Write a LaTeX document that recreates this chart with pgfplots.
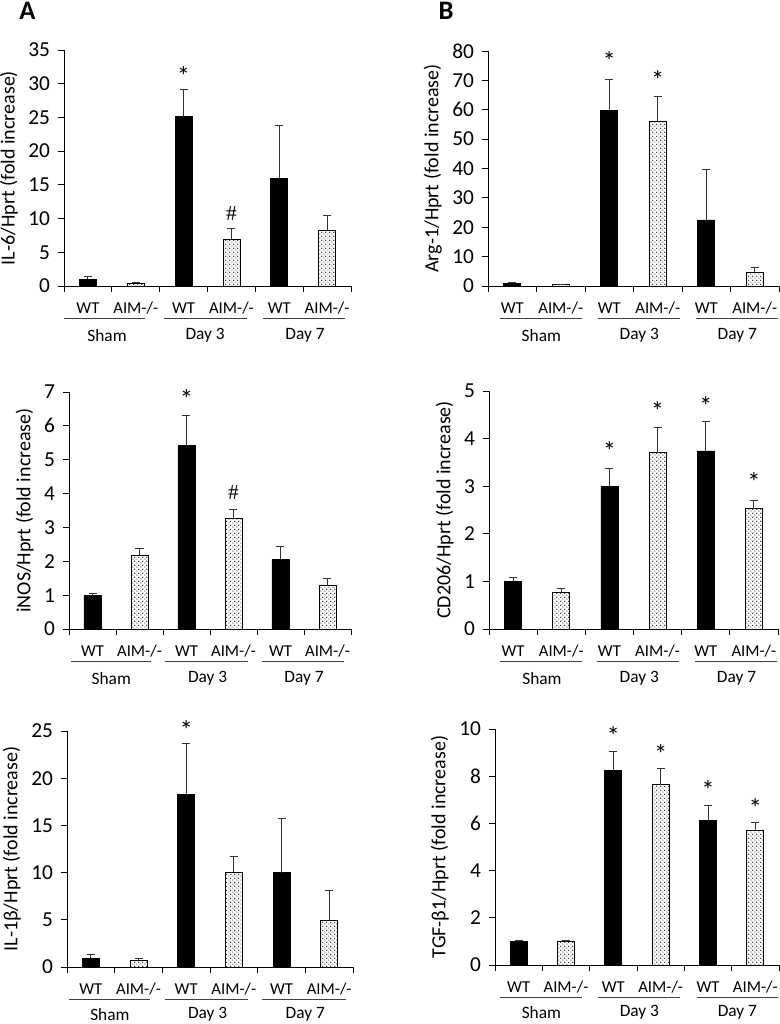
\documentclass[border=0pt]{standalone}
\usepackage{fontspec}
\setmainfont{Carlito}
\newfontfamily\hashfont{Liberation Serif}
\usepackage{pgfplots}
\pgfplotsset{compat=1.18}
\usetikzlibrary{patterns}

\pgfdeclarepatternformonly{mydots}{\pgfqpoint{0pt}{0pt}}{\pgfqpoint{3.2pt}{3.2pt}}{\pgfqpoint{3.2pt}{3.2pt}}{%
 \pgfpathcircle{\pgfqpoint{0.8pt}{0.8pt}}{0.5pt}%
 \pgfpathcircle{\pgfqpoint{2.4pt}{2.4pt}}{0.5pt}%
 \pgfusepath{fill}}

\pgfplotsset{
 panel/.style={
  scale only axis,
  xmin=-0.5, xmax=5.5, ymin=0,
  axis x line*=bottom, axis y line*=left,
  axis line style={line width=0.7pt, black},
  tick align=outside,
  major tick length=4.5pt,
  tick style={line width=0.7pt, black},
  xtick={-0.5,0.5,1.5,2.5,3.5,4.5,5.5},
  xticklabels={},
  yticklabel style={font=\fontsize{16}{18}\selectfont, xshift=-2.5pt},
  /pgf/number format/assume math mode=true,
  ylabel style={font=\fontsize{15}{17}\selectfont, yshift=1pt},
  ybar, bar width=12.75pt, bar shift=0pt,
  clip=false,
 },
 wt/.style={fill=black, draw=black, line width=0.6pt,
  error bars/.cd, y dir=plus, y explicit,
  error bar style={line width=0.7pt, black!80},
  error mark options={rotate=90, mark size=3pt, line width=0.7pt, black!80}},
 ko/.style={fill=white, draw=black, line width=0.6pt, postaction={pattern=mydots, pattern color=black},
  error bars/.cd, y dir=plus, y explicit,
  error bar style={line width=0.7pt, black!80},
  error mark options={rotate=90, mark size=3pt, line width=0.7pt, black!80}},
}
\def\gshift{-37pt}
\tikzset{
 lab/.style={font=\fontsize{12.5}{14}\selectfont, yshift=-16.5pt, inner sep=0pt},
 glab/.style={font=\fontsize{13}{15}\selectfont, yshift=\gshift, inner sep=0pt},
 uline/.style={line width=0.6pt, black!75},
 star/.style={font=\fontsize{20}{22}\selectfont, inner sep=0pt, yshift=-3.4pt},
 hash/.style={font=\hashfont\fontsize{16}{18}\selectfont, inner sep=0pt},
}
% #1..#6 underline extents, #7..#9 group centres
\newcommand{\cats}[9]{%
 \node[lab] at (axis cs:0,0) {WT};
 \node[lab] at (axis cs:1,0) {AIM-/-};
 \node[lab] at (axis cs:2,0) {WT};
 \node[lab] at (axis cs:3,0) {AIM-/-};
 \node[lab] at (axis cs:4,0) {WT};
 \node[lab] at (axis cs:5,0) {AIM-/-};
 \draw[uline] ([yshift=-24pt]axis cs:#1,0) -- ([yshift=-24pt]axis cs:#2,0);
 \draw[uline] ([yshift=-24pt]axis cs:#3,0) -- ([yshift=-24pt]axis cs:#4,0);
 \draw[uline] ([yshift=-24pt]axis cs:#5,0) -- ([yshift=-24pt]axis cs:#6,0);
 \node[glab] at (axis cs:#7,0) {Sham};
 \node[glab] at (axis cs:#8,0) {Day 3};
 \node[glab] at (axis cs:#9,0) {Day 7};
}

\begin{document}
\begin{tikzpicture}
\useasboundingbox (0,0) rectangle (585pt,-768pt);
\node[font=\fontsize{20}{22}\selectfont\bfseries] at (20.5pt,-8pt) {A};
\node[font=\fontsize{20}{22}\selectfont\bfseries] at (334.5pt,-8.5pt) {B};

% A1 IL-6
\begin{axis}[panel, at={(48pt,-214.5pt)}, anchor=south west, width=215.25pt, height=177pt,
  ymax=35, ytick={0,5,...,35}, ylabel={IL-6/Hprt (fold increase)}]
\addplot[wt] table[x=x, y=y, y error=e] {
x y e
0 1.0 0.4
2 25.1 4.0
4 15.9 7.9
};
\addplot[ko] table[x=x, y=y, y error=e] {
x y e
1 0.4 0.15
3 6.9 1.7
5 8.2 2.3
};
\node[star] at (axis cs:2,31.8) {*};
\node[hash] at (axis cs:3,10.8) {\#};
\cats{-0.49}{1.2}{1.59}{3.33}{3.66}{5.38}{0.4}{2.45}{4.54}
\end{axis}

% B1 Arg-1
\begin{axis}[panel, at={(366pt,-214.5pt)}, anchor=south west, width=218.25pt, height=176.25pt,
  ymax=80, ytick={0,10,...,80}, ylabel={Arg-1/Hprt (fold increase)}]
\addplot[wt] table[x=x, y=y, y error=e] {
x y e
0 0.9 0.35
2 59.9 10.4
4 22.5 17.2
};
\addplot[ko] table[x=x, y=y, y error=e] {
x y e
1 0.4 0.25
3 56.2 8.2
5 4.7 1.6
};
\node[star] at (axis cs:2,78) {*};
\node[star] at (axis cs:3,71.8) {*};
\cats{-0.25}{1.44}{1.77}{3.46}{3.79}{5.48}{0.6}{2.62}{4.64}
\end{axis}

% A2 iNOS
\begin{axis}[panel, at={(51.75pt,-471.75pt)}, anchor=south west, width=211.5pt, height=177.75pt,
  ymax=7, ytick={0,1,...,7}, ylabel={iNOS/Hprt (fold increase)}]
\addplot[wt] table[x=x, y=y, y error=e] {
x y e
0 1.0 0.05
2 5.42 0.9
4 2.06 0.37
};
\addplot[ko] table[x=x, y=y, y error=e] {
x y e
1 2.18 0.21
3 3.27 0.25
5 1.28 0.2
};
\node[star] at (axis cs:2,6.92) {*};
\node[hash] at (axis cs:3,4.04) {\#};
\cats{-0.45}{1.25}{1.55}{3.3}{3.6}{5.35}{0.4}{2.45}{4.5}
\end{axis}

% B2 CD206
\begin{axis}[panel, at={(366.75pt,-471.75pt)}, anchor=south west, width=216.75pt, height=178.5pt,
  ymax=5, ytick={0,1,...,5}, ylabel={CD206/Hprt (fold increase)}]
\addplot[wt] table[x=x, y=y, y error=e] {
x y e
0 1.0 0.08
2 2.99 0.39
4 3.74 0.61
};
\addplot[ko] table[x=x, y=y, y error=e] {
x y e
1 0.76 0.09
3 3.70 0.54
5 2.53 0.18
};
\node[star] at (axis cs:2,3.83) {*};
\node[star] at (axis cs:3,4.68) {*};
\node[star] at (axis cs:4,4.77) {*};
\node[star] at (axis cs:5,3.18) {*};
\cats{-0.27}{1.43}{1.75}{3.45}{3.78}{5.48}{0.6}{2.62}{4.64}
\end{axis}

\def\gshift{-35.5pt}
% A3 IL-1beta
\begin{axis}[panel, at={(50.25pt,-725.25pt)}, anchor=south west, width=214.5pt, height=177pt,
  ymax=25, ytick={0,5,...,25}, ylabel={IL-1β/Hprt (fold increase)}]
\addplot[wt] table[x=x, y=y, y error=e] {
x y e
0 0.95 0.35
2 18.3 5.35
4 10.0 5.7
};
\addplot[ko] table[x=x, y=y, y error=e] {
x y e
1 0.7 0.25
3 10.05 1.65
5 4.95 3.15
};
\node[star] at (axis cs:2,25.6) {*};
\cats{-0.45}{1.25}{1.55}{3.3}{3.6}{5.35}{0.4}{2.45}{4.5}
\end{axis}

% B3 TGF-beta1
\begin{axis}[panel, at={(371.25pt,-723.75pt)}, anchor=south west, width=213pt, height=177pt,
  ymax=10, ytick={0,2,...,10}, ylabel={TGF-β1/Hprt (fold increase)}]
\addplot[wt] table[x=x, y=y, y error=e] {
x y e
0 0.99 0.04
2 8.23 0.82
4 6.12 0.65
};
\addplot[ko] table[x=x, y=y, y error=e] {
x y e
1 0.99 0.03
3 7.64 0.69
5 5.70 0.34
};
\node[star] at (axis cs:2,9.9) {*};
\node[star] at (axis cs:3,9.15) {*};
\node[star] at (axis cs:4,7.6) {*};
\node[star] at (axis cs:5,6.86) {*};
\cats{-0.39}{1.34}{1.68}{3.41}{3.77}{5.48}{0.48}{2.55}{4.62}
\end{axis}
\end{tikzpicture}
\end{document}
